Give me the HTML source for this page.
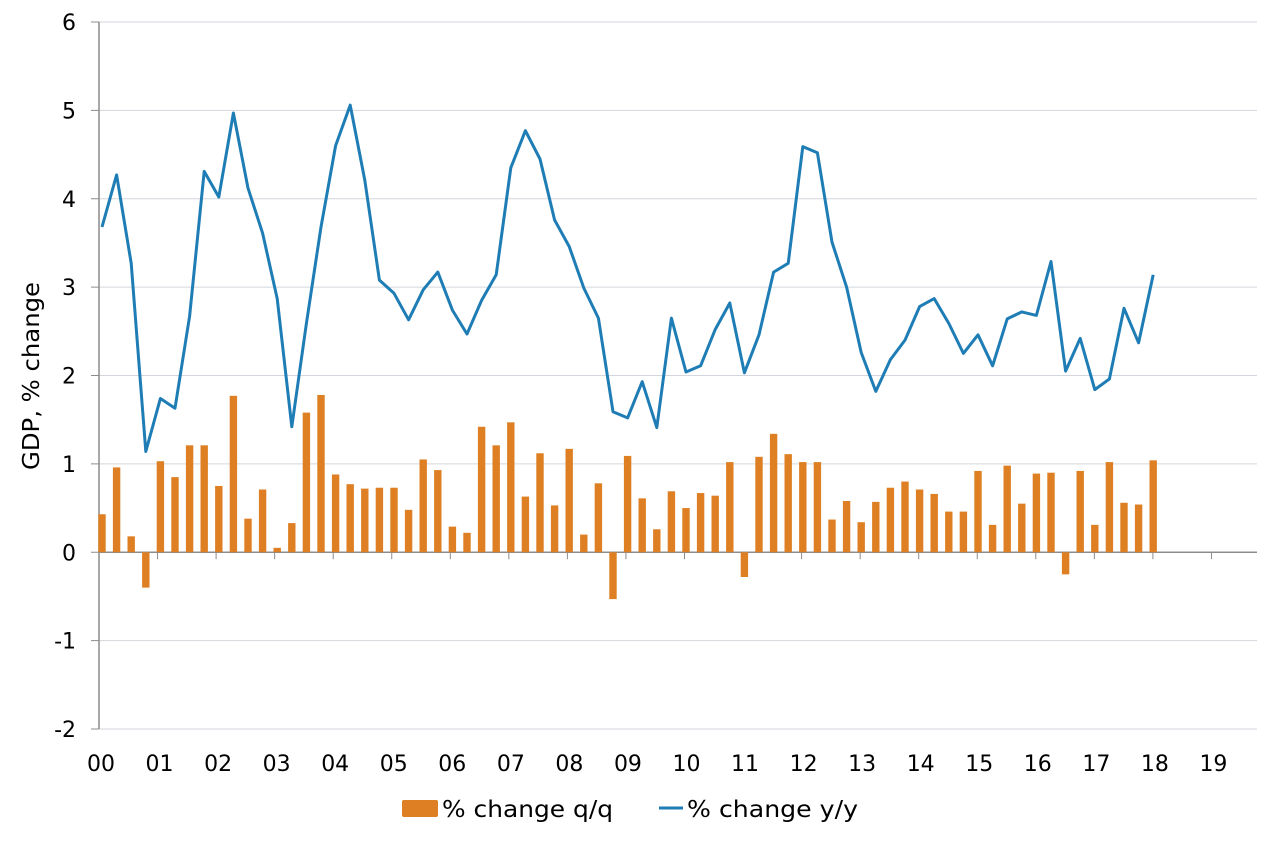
<!DOCTYPE html>
<html><head><meta charset="utf-8"><style>
html,body{margin:0;padding:0;background:#fff;}
svg{display:block;font-family:"DejaVu Sans","Liberation Sans",sans-serif;}
</style></head><body>
<svg id="chart" width="1266" height="842" viewBox="0 0 1266 842"></svg>
<script>
const yTicks = [-2,-1,0,1,2,3,4,5,6];
const yearLabels = ["00","01","02","03","04","05","06","07","08","09","10","11","12","13","14","15","16","17","18","19"];
const qq = [0.43,0.96,0.18,-0.40,1.03,0.85,1.21,1.21,0.75,1.77,0.38,0.71,0.05,0.33,1.58,1.78,0.88,0.77,0.72,0.73,0.73,0.48,1.05,0.93,0.29,0.22,1.42,1.21,1.47,0.63,1.12,0.53,1.17,0.20,0.78,-0.53,1.09,0.61,0.26,0.69,0.50,0.67,0.64,1.02,-0.28,1.08,1.34,1.11,1.02,1.02,0.37,0.58,0.34,0.57,0.73,0.80,0.71,0.66,0.46,0.46,0.92,0.31,0.98,0.55,0.89,0.90,-0.25,0.92,0.31,1.02,0.56,0.54,1.04];
const yy = [3.68,4.27,3.27,1.14,1.74,1.63,2.67,4.31,4.02,4.97,4.12,3.61,2.87,1.42,2.59,3.68,4.60,5.06,4.21,3.08,2.93,2.63,2.97,3.17,2.74,2.47,2.85,3.14,4.35,4.77,4.45,3.76,3.46,2.99,2.65,1.59,1.52,1.93,1.41,2.65,2.04,2.11,2.52,2.82,2.03,2.46,3.17,3.27,4.59,4.52,3.51,3.00,2.26,1.82,2.18,2.40,2.78,2.87,2.59,2.25,2.46,2.11,2.64,2.72,2.68,3.29,2.05,2.42,1.84,1.96,2.76,2.37,3.14];

const NS="http://www.w3.org/2000/svg";
const svgEl=document.getElementById('chart');
const plotL=99,plotR=1257,plotT=22,plotB=729;
const yMin=-2,yMax=6;
function yS(v){return plotB-(v-yMin)/(yMax-yMin)*(plotB-plotT);}
function yearX(k){return plotL+k*58.55;}
function qX(i){return 102+i*14.6;}
function mk(tag,attrs){const e=document.createElementNS(NS,tag);for(const k in attrs)e.setAttribute(k,attrs[k]);svgEl.appendChild(e);return e;}

yTicks.forEach(t=>{
  const g=mk('line',{x1:plotL,x2:plotR,y1:yS(t),y2:yS(t),stroke:t===0?'#8c8c8c':'#d3d6dc','stroke-width':t===0?1.5:1});
  
  
  const tk=mk('line',{x1:91,x2:plotL,y1:yS(t),y2:yS(t),stroke:'#8c8c8c','stroke-width':1});
  
  
  const l=mk('text',{x:76,y:yS(t)+8,'text-anchor':'end','font-size':22,fill:'#000'});
  l.textContent=t;
  
  
});
const ax=mk('line',{x1:plotL,x2:plotL,y1:plotT,y2:plotB,stroke:'#8c8c8c','stroke-width':1.5});



yearLabels.forEach((lab,k)=>{
  const x=yearX(k);
  const tk=mk('line',{x1:x,x2:x,y1:yS(0),y2:yS(0)+7,stroke:'#8c8c8c','stroke-width':1});
  
  
  const t=mk('text',{x:x+2,y:771,'text-anchor':'middle','font-size':22,fill:'#000'});
  t.textContent=lab;
  
  
});

qq.forEach((v,i)=>{
  const y0=yS(0),y1=yS(v);
  const r=mk('rect',{x:qX(i)-3.7,y:Math.min(y0,y1),width:7.4,height:Math.abs(y1-y0),fill:'#dd7f22'});
  
  
});
const pts=yy.map((v,i)=>qX(i).toFixed(1)+','+yS(v).toFixed(1)).join(' ');
const pl=mk('polyline',{points:pts,fill:'none',stroke:'#1f7db5','stroke-width':3,'stroke-linejoin':'round'});



const yt=mk('text',{x:0,y:0,transform:'translate(39,376) rotate(-90)','text-anchor':'middle','font-size':23,fill:'#000',textLength:188,lengthAdjust:'spacingAndGlyphs'});
yt.textContent='GDP, % change';



const lr=mk('rect',{x:402,y:800,width:36,height:17,rx:2,fill:'#dd7f22'});


const lt1=mk('text',{x:442,y:817,'font-size':23,fill:'#000',textLength:171,lengthAdjust:'spacingAndGlyphs'});
lt1.textContent='% change q/q';


const ll=mk('line',{x1:659,x2:683,y1:808,y2:808,stroke:'#1f7db5','stroke-width':3});


const lt2=mk('text',{x:687,y:817,'font-size':23,fill:'#000',textLength:171,lengthAdjust:'spacingAndGlyphs'});
lt2.textContent='% change y/y';


</script>
</body></html>
